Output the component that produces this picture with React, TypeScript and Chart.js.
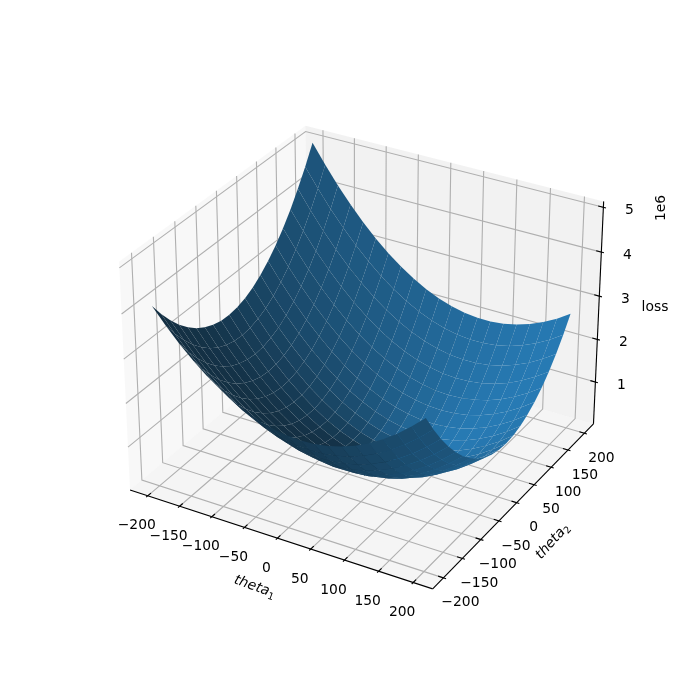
import React, { useEffect, useRef } from "react";
import { Chart, registerables } from "chart.js";
Chart.register(...registerables);

const theta1Values = [-200, -180, -160, -140, -120, -100, -80, -60, -40, -20, 0, 20, 40, 60, 80, 100, 120, 140, 160, 180, 200];
const theta2Values = [-200, -180, -160, -140, -120, -100, -80, -60, -40, -20, 0, 20, 40, 60, 80, 100, 120, 140, 160, 180, 200];
// loss in millions, one row per theta2 value, one column per theta1 value
const lossRows = [
  [4.09, 3.743, 3.428, 3.147, 2.898, 2.683, 2.5, 2.351, 2.234, 2.151, 2.1, 2.083, 2.098, 2.147, 2.228, 2.343, 2.49, 2.671, 2.884, 3.131, 3.41],
  [3.766, 3.414, 3.096, 2.81, 2.557, 2.338, 2.151, 1.998, 1.877, 1.789, 1.735, 1.713, 1.724, 1.769, 1.846, 1.956, 2.1, 2.276, 2.485, 2.728, 3.003],
  [3.481, 3.125, 2.802, 2.513, 2.256, 2.032, 1.841, 1.683, 1.559, 1.467, 1.408, 1.382, 1.389, 1.43, 1.503, 1.609, 1.748, 1.92, 2.126, 2.364, 2.635],
  [3.235, 2.875, 2.548, 2.254, 1.993, 1.765, 1.57, 1.408, 1.279, 1.184, 1.121, 1.091, 1.094, 1.13, 1.199, 1.301, 1.436, 1.604, 1.805, 2.039, 2.306],
  [3.028, 2.664, 2.333, 2.035, 1.77, 1.538, 1.338, 1.172, 1.039, 0.939, 0.872, 0.838, 0.837, 0.869, 0.934, 1.032, 1.162, 1.326, 1.523, 1.753, 2.016],
  [2.86, 2.492, 2.157, 1.854, 1.585, 1.349, 1.146, 0.975, 0.838, 0.734, 0.663, 0.624, 0.619, 0.647, 0.708, 0.801, 0.928, 1.088, 1.281, 1.506, 1.765],
  [2.731, 2.359, 2.019, 1.713, 1.439, 1.199, 0.992, 0.817, 0.676, 0.567, 0.492, 0.45, 0.44, 0.464, 0.52, 0.61, 0.733, 0.888, 1.077, 1.298, 1.553],
  [2.641, 2.265, 1.921, 1.61, 1.333, 1.088, 0.877, 0.698, 0.553, 0.44, 0.361, 0.314, 0.3, 0.32, 0.372, 0.458, 0.576, 0.728, 0.912, 1.13, 1.38],
  [2.59, 2.209, 1.862, 1.547, 1.265, 1.017, 0.801, 0.618, 0.468, 0.352, 0.268, 0.217, 0.2, 0.215, 0.263, 0.345, 0.459, 0.606, 0.786, 1.0, 1.246],
  [2.578, 2.193, 1.841, 1.523, 1.237, 0.984, 0.764, 0.577, 0.423, 0.302, 0.215, 0.16, 0.138, 0.149, 0.193, 0.27, 0.38, 0.524, 0.7, 0.909, 1.151],
  [2.605, 2.216, 1.86, 1.537, 1.247, 0.99, 0.766, 0.575, 0.417, 0.292, 0.2, 0.141, 0.115, 0.122, 0.162, 0.235, 0.341, 0.48, 0.652, 0.857, 1.095],
  [2.671, 2.278, 1.918, 1.591, 1.296, 1.035, 0.807, 0.612, 0.45, 0.321, 0.225, 0.161, 0.131, 0.134, 0.17, 0.239, 0.341, 0.475, 0.643, 0.844, 1.078],
  [2.776, 2.379, 2.014, 1.683, 1.385, 1.12, 0.887, 0.688, 0.522, 0.388, 0.288, 0.221, 0.186, 0.185, 0.217, 0.282, 0.379, 0.51, 0.674, 0.87, 1.1],
  [2.92, 2.519, 2.15, 1.815, 1.512, 1.243, 1.006, 0.803, 0.632, 0.495, 0.391, 0.319, 0.281, 0.275, 0.303, 0.363, 0.457, 0.583, 0.743, 0.935, 1.161],
  [3.103, 2.697, 2.325, 1.985, 1.679, 1.405, 1.164, 0.957, 0.782, 0.641, 0.532, 0.456, 0.414, 0.404, 0.428, 0.484, 0.573, 0.696, 0.851, 1.04, 1.261],
  [3.325, 2.915, 2.539, 2.195, 1.884, 1.606, 1.362, 1.15, 0.971, 0.825, 0.713, 0.633, 0.586, 0.572, 0.592, 0.644, 0.729, 0.847, 0.999, 1.183, 1.4],
  [3.586, 3.172, 2.791, 2.443, 2.128, 1.847, 1.598, 1.382, 1.199, 1.049, 0.932, 0.848, 0.797, 0.779, 0.794, 0.843, 0.924, 1.038, 1.185, 1.365, 1.578],
  [3.886, 3.468, 3.083, 2.731, 2.412, 2.126, 1.873, 1.653, 1.466, 1.312, 1.191, 1.102, 1.047, 1.025, 1.036, 1.08, 1.157, 1.267, 1.41, 1.586, 1.795],
  [4.225, 3.803, 3.414, 3.057, 2.734, 2.444, 2.187, 1.963, 1.771, 1.613, 1.488, 1.396, 1.337, 1.31, 1.317, 1.357, 1.43, 1.536, 1.674, 1.846, 2.051],
  [4.603, 4.177, 3.783, 3.423, 3.096, 2.801, 2.54, 2.312, 2.116, 1.954, 1.825, 1.728, 1.665, 1.634, 1.637, 1.673, 1.741, 1.843, 1.978, 2.145, 2.346],
  [5.02, 4.59, 4.192, 3.828, 3.496, 3.198, 2.932, 2.7, 2.5, 2.334, 2.2, 2.1, 2.032, 1.998, 1.996, 2.028, 2.092, 2.19, 2.32, 2.484, 2.68],
];
const xTicks = [-200, -150, -100, -50, 0, 50, 100, 150, 200];
const yTicks = [-200, -150, -100, -50, 0, 50, 100, 150, 200];
const zTicks = [1, 2, 3, 4, 5];
const xRange = [-228, 228];
const yRange = [-228, 228];
const zRange = [0, 5.13];

const BX = 1.19, BY = 1.19, BZ = 0.8925;
const U = [0.8660254, 0.5, 0];
const V = [-0.25, 0.4330127, 0.8660254];
const W = [0.4330127, -0.75, 0.5];
const dot = (a: number[], b: number[]) => a[0] * b[0] + a[1] * b[1] + a[2] * b[2];
const centred = (x: number, y: number, z: number) => [
  ((x - xRange[0]) / (xRange[1] - xRange[0]) - 0.5) * BX,
  ((y - yRange[0]) / (yRange[1] - yRange[0]) - 0.5) * BY,
  ((z - zRange[0]) / (zRange[1] - zRange[0]) - 0.5) * BZ,
];
const project = (x: number, y: number, z: number) => {
  const p = centred(x, y, z);
  const d = 10 - dot(W, p);
  return { x: dot(U, p) / d, y: dot(V, p) / d };
};
const depth = (x: number, y: number, z: number) => dot(W, centred(x, y, z));

const line = (pts: number[][], color: string, width: number) => ({
  data: pts.map((p) => project(p[0], p[1], p[2])),
  showLine: true, borderColor: color, borderWidth: width, pointRadius: 0, fill: false, clip: false,
});
const shape = (pts: number[][], color: string) => ({
  data: pts.map((p) => project(p[0], p[1], p[2])),
  showLine: true, borderWidth: 0, borderColor: "transparent", backgroundColor: color,
  pointRadius: 0, fill: "shape", clip: false,
});

function buildDatasets() {
  const [x0, x1] = xRange, [y0, y1] = yRange, [z0, z1] = zRange;
  const out: any[] = [];
  out.push(shape([[x0, y0, z0], [x0, y1, z0], [x0, y1, z1], [x0, y0, z1]], "rgba(242,242,242,0.5)"));
  out.push(shape([[x0, y1, z0], [x1, y1, z0], [x1, y1, z1], [x0, y1, z1]], "rgba(230,230,230,0.5)"));
  out.push(shape([[x0, y0, z0], [x1, y0, z0], [x1, y1, z0], [x0, y1, z0]], "rgba(236,236,236,0.5)"));
  const grid = "#b0b0b0", lw = 1.11;
  xTicks.forEach((t) => out.push(line([[t, y0, z0], [t, y1, z0], [t, y1, z1]], grid, lw)));
  yTicks.forEach((t) => out.push(line([[x1, t, z0], [x0, t, z0], [x0, t, z1]], grid, lw)));
  zTicks.forEach((t) => out.push(line([[x0, y0, t], [x0, y1, t], [x1, y1, t]], grid, lw)));
  out.push(line([[x0, y0, z0], [x1, y0, z0]], "#000", lw));
  out.push(line([[x1, y0, z0], [x1, y1, z0]], "#000", lw));
  out.push(line([[x1, y1, z0], [x1, y1, z1]], "#000", lw));
  const dx = (x1 - x0) / 12, dy = (y1 - y0) / 12;
  xTicks.forEach((t) => out.push(line([[t, y0 - 0.1 * dy, z0], [t, y0 + 0.2 * dy, z0]], "#000", lw)));
  yTicks.forEach((t) => out.push(line([[x1 + 0.1 * dx, t, z0], [x1 - 0.2 * dx, t, z0]], "#000", lw)));
  zTicks.forEach((t) => out.push(line([[x1 + 0.1 * dx, y1, t], [x1 - 0.2 * dx, y1, t]], "#000", lw)));

  const quads: { d: number; ds: any }[] = [];
  for (let j = 0; j < theta2Values.length - 1; j++) {
    for (let i = 0; i < theta1Values.length - 1; i++) {
      const a = [theta1Values[i], theta2Values[j], lossRows[j][i] * 1e6];
      const b = [theta1Values[i + 1], theta2Values[j], lossRows[j][i + 1] * 1e6];
      const c = [theta1Values[i + 1], theta2Values[j + 1], lossRows[j + 1][i + 1] * 1e6];
      const e = [theta1Values[i], theta2Values[j + 1], lossRows[j + 1][i] * 1e6];
      const v1 = [c[0] - a[0], c[1] - a[1], c[2] - a[2]];
      const v2 = [e[0] - b[0], e[1] - b[1], e[2] - b[2]];
      const n = [v1[1] * v2[2] - v1[2] * v2[1], v1[2] * v2[0] - v1[0] * v2[2], v1[0] * v2[1] - v1[1] * v2[0]];
      const len = Math.hypot(n[0], n[1], n[2]) || 1;
      const shade = (n[0] * -0.6667 + n[1] * -0.6667 + n[2] * 0.3333) / len;
      const f = 0.65 + 0.35 * shade;
      const mix = 0.05;
      const col = `rgb(${31 * f * (1 - mix) + 200 * mix},${119 * f * (1 - mix) + 225 * mix},${180 * f * (1 - mix) + 245 * mix})`;
      const pts = [a, b, c, e].map((p) => [p[0], p[1], p[2] / 1e6]);
      const d = pts.reduce((s, p) => s + depth(p[0], p[1], p[2]), 0) / 4;
      quads.push({ d, ds: shape(pts, col) });
    }
  }
  quads.sort((p, q) => p.d - q.d);
  quads.forEach((q) => out.push(q.ds));
  return out.reverse(); // Chart.js paints the last dataset first
}

const FONT = '"DejaVu Sans"';
const textPlugin = {
  id: "axisText",
  afterDraw(chart: any) {
    const { ctx, scales } = chart;
    const px = (x: number, y: number, z: number) => {
      const p = project(x, y, z);
      return [scales.x.getPixelForValue(p.x), scales.y.getPixelForValue(p.y)];
    };
    const put = (s: string, x: number, y: number) => ctx.fillText(s, x, y);
    ctx.save();
    ctx.fillStyle = "#000";
    ctx.textBaseline = "middle";
    ctx.textAlign = "center";
    ctx.font = `13.89px ${FONT}`;
    const fmt = (t: number) => (t < 0 ? "\u2212" + -t : String(t));
    xTicks.forEach((t) => { const [a, b] = px(t, yRange[0], zRange[0]); put(fmt(t), a - 11, b + 30); });
    yTicks.forEach((t) => { const [a, b] = px(xRange[1], t, zRange[0]); put(fmt(t), a + 17, b + 25); });
    zTicks.forEach((t) => { const [a, b] = px(xRange[1], yRange[1], t); put(fmt(t), a + 26, b + 3); });
    put("loss", 655, 307);
    ctx.save(); ctx.translate(661, 208); ctx.rotate(-Math.PI / 2); put("1e6", 0, 0); ctx.restore();
    const mathLabel = (sub: string, x: number, y: number, rot: number) => {
      ctx.save();
      ctx.translate(x, y);
      ctx.rotate(rot);
      ctx.textAlign = "left";
      ctx.font = `italic 13.89px ${FONT}`;
      const w = ctx.measureText("theta").width;
      ctx.fillText("theta", -(w + 7) / 2, 0);
      ctx.font = `9.7px ${FONT}`;
      ctx.fillText(sub, -(w + 7) / 2 + w, 4);
      ctx.restore();
    };
    mathLabel("1", 255, 587, (20 * Math.PI) / 180);
    mathLabel("2", 553, 541, (-48 * Math.PI) / 180);
    ctx.restore();
  },
};

export default function App() {
  const ref = useRef<HTMLCanvasElement>(null);
  useEffect(() => {
    document.body.style.margin = "0";
    const chart = new Chart(ref.current!, {
      type: "scatter",
      data: { datasets: buildDatasets() },
      options: {
        animation: false, responsive: false,
        layout: { padding: { left: 89.25, right: 71.75, top: 84, bottom: 77 } },
        scales: {
          x: { type: "linear", display: false, min: -0.095, max: 0.09 },
          y: { type: "linear", display: false, min: -0.095, max: 0.09 },
        },
        plugins: { legend: { display: false }, tooltip: { enabled: false }, title: { display: false } },
      },
      plugins: [textPlugin],
    } as any);
    return () => chart.destroy();
  }, []);
  return <canvas ref={ref} width={700} height={700} style={{ display: "block" }} />;
}
